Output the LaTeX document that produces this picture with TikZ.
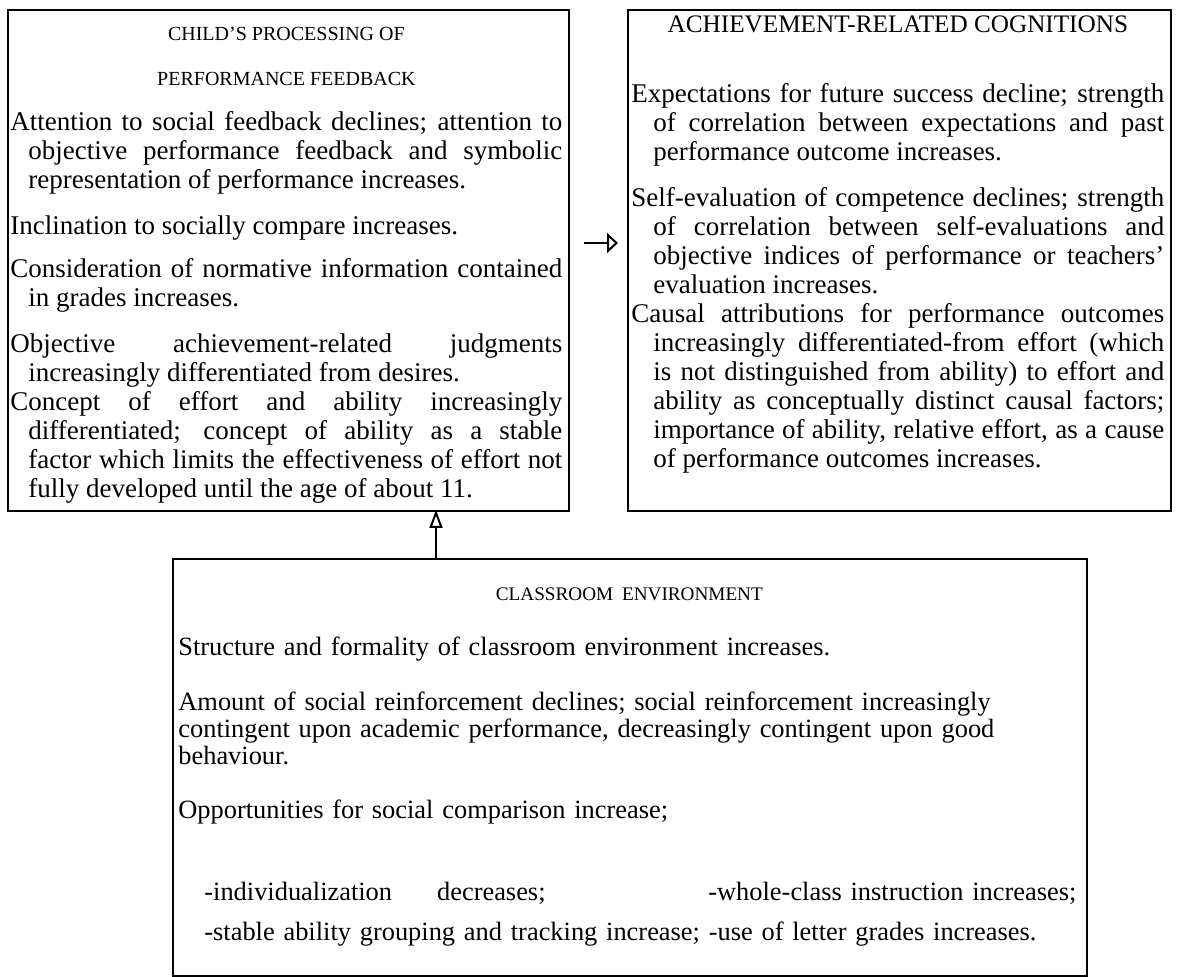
\documentclass[tikz,border=0pt]{standalone}
\usepackage{fontspec}
\setmainfont{Liberation Serif}
\usepackage{tikz}
\usetikzlibrary{arrows.meta,calc,positioning}

% one paragraph with hanging continuation lines
\newcommand{\hangpar}[2][9pt]{\par\hangindent=#1\hangafter=1 #2\par}

\tikzset{
  panel/.style={draw, line width=1pt, inner sep=0pt, anchor=north west},
  boxtext/.style={inner sep=0pt, anchor=north west, align=justify,
    font=\fontsize{13.5}{14.5}\selectfont},
  envtext/.style={inner sep=0pt, anchor=north west, align=left,
    font=\fontsize{13.2}{13.5}\selectfont},
  sidelink/.style={line width=1pt, -{Triangle[open,length=5.5pt,width=10pt]}},
  uplink/.style={line width=1pt, -{Triangle[open,length=9pt,width=6.5pt]}},
}

\begin{document}
\begin{tikzpicture}[x=0.5pt,y=-0.5pt]
		\useasboundingbox (0,0) rectangle (1180,977);
		% the three boxes
		\node[panel, minimum width=280.5pt, minimum height=250.5pt] (cpf) at (7,9) {};
		\node[panel, minimum width=271.5pt, minimum height=250.5pt] (arc) at (627,9) {};
		\node[panel, minimum width=457pt, minimum height=208.5pt] (env) at (172,558) {};

		\node[boxtext, text width=276pt] (cpf text) at ($(cpf.north west)+(3,0)$) {%
			\parindent=0pt\hyphenpenalty=10000\exhyphenpenalty=10000
			{\centering\fontsize{10}{14.5}\selectfont\rule{0pt}{15.5pt}CHILD'S PROCESSING OF\par}
			\vskip8pt
			{\centering\fontsize{10}{14.5}\selectfont PERFORMANCE FEEDBACK\par}
			\vskip8pt
			\hangpar{Attention to social feedback declines; attention to\linebreak objective performance feedback and symbolic\linebreak representation of performance increases.}
			\vskip8.5pt
			\hangpar{Inclination to socially compare increases.}
			\vskip7pt
			\hangpar{Consideration of normative information contained\linebreak in grades increases.}
			\vskip8.5pt
			\hangpar{Objective achievement-related judgments\linebreak increasingly differentiated from desires.}
			\hangpar{Concept of effort and ability increasingly\linebreak differentiated; concept of ability as a stable\linebreak factor which limits the effectiveness of effort not\linebreak fully developed until the age of about 11.}
		};

		\node[boxtext, text width=266.5pt] (arc text) at ($(arc.north west)+(4,0)$) {%
			\parindent=0pt\hyphenpenalty=10000\exhyphenpenalty=10000
			{\centering\fontsize{12.6}{14.5}\selectfont\rule{0pt}{11.5pt}ACHIEVEMENT-RELATED COGNITIONS\par}
			\vskip20.5pt
			\hangpar[11pt]{Expectations for future success decline; strength\linebreak of correlation between expectations and past\linebreak performance outcome increases.}
			\vskip8.5pt
			\hangpar[11pt]{Self-evaluation of competence declines; strength\linebreak of correlation between self-evaluations and\linebreak objective indices of performance or teachers'\linebreak evaluation increases.}
			\hangpar[11pt]{Causal attributions for performance outcomes\linebreak increasingly differentiated-from effort (which\linebreak is not distinguished from ability) to effort and\linebreak ability as conceptually distinct causal factors;\linebreak importance of ability, relative effort, as a cause\linebreak of performance outcomes increases.}
		};

		\node[envtext, text width=451pt] (env text) at ($(env.north west)+(6,0)$) {%
			\makebox[451pt]{\fontsize{9.6}{13.5}\selectfont\rule{0pt}{21pt}CLASSROOM ENVIRONMENT}\\[14pt]
			Structure and formality of classroom environment increases.\\[14pt]
			Amount of social reinforcement declines; social reinforcement increasingly\\
			contingent upon academic performance, decreasingly contingent upon good\\
			behaviour.\\[13.5pt]
			Opportunities for social comparison increase;\\[27.5pt]
			\hspace*{13pt}\makebox[252pt][l]{-individualization\hspace{22.5pt}decreases;}-whole-class instruction increases;\\[6.5pt]
			\hspace*{13pt}-stable ability grouping and tracking increase; -use of letter grades increases.
		};

		% links between the boxes
		\draw[sidelink] ([shift={(14,-17.5)}]cpf.east) -- ([shift={(-9,-17.5)}]arc.west);
		\coordinate (link) at (436,510);
		\draw[uplink] (env.north -| link) -- (link);
\end{tikzpicture}
\end{document}
